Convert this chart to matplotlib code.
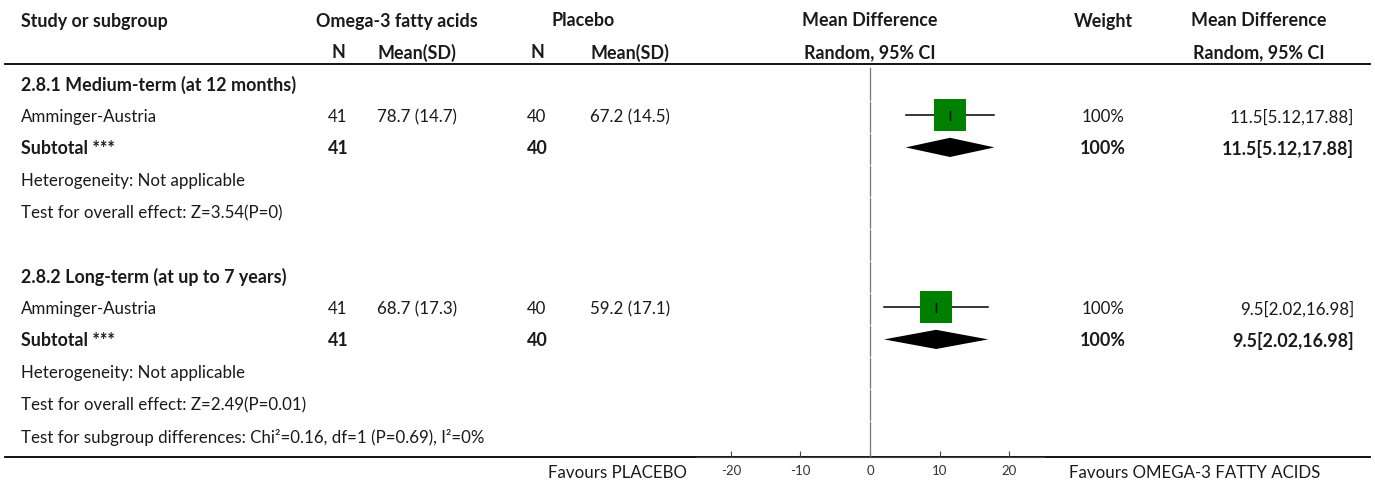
import matplotlib
matplotlib.use("Agg")
import matplotlib.pyplot as plt
import numpy as np

plt.rcParams['font.family'] = ['Lato', 'DejaVu Sans']
plt.rcParams['axes.unicode_minus'] = False

# data
groups = ["2.8.1 Medium-term (at 12 months)", "2.8.2 Long-term (at up to 7 years)"]
studies = ["Amminger-Austria", "Amminger-Austria"]
n_omega = [41, 41]
mean_omega = [78.7, 68.7]
sd_omega = [14.7, 17.3]
n_plac = [40, 40]
mean_plac = [67.2, 59.2]
sd_plac = [14.5, 17.1]
md = [11.5, 9.5]
ci_lo = [5.12, 2.02]
ci_hi = [17.88, 16.98]
weight = [100, 100]
heterogeneity = ["Heterogeneity: Not applicable", "Heterogeneity: Not applicable"]
overall = ["Test for overall effect: Z=3.54(P=0)", "Test for overall effect: Z=2.49(P=0.01)"]
subgroup_diff = "Test for subgroup differences: Chi\u00b2=0.16, df=1 (P=0.69), I\u00b2=0%"
xticks = [-20, -10, 0, 10, 20]

W, H = 1375, 484
fig = plt.figure(figsize=(W / 100, H / 100), dpi=100)

# rows: y pixel = 85 + 32*r
def r_of(ypx):
    return (ypx - 85) / 32.0

top_r, bot_r = r_of(0), r_of(H)
axis_px = 457

# text axes (x in pixels, y in rows)
ax = fig.add_axes([0, 0, 1, 1])
ax.set_xlim(0, W)
ax.set_ylim(bot_r, top_r)
ax.axis('off')

# forest axes
fx0, fx1 = 696, 1044
fa = fig.add_axes([fx0 / W, (H - axis_px) / H, (fx1 - fx0) / W, axis_px / H])
fa.set_xlim(-25, 25)
fa.set_ylim(r_of(axis_px), top_r)
fa.patch.set_alpha(0)
for s in ['top', 'right', 'left']:
    fa.spines[s].set_visible(False)
fa.spines['bottom'].set_color('#444444')
fa.set_yticks([])
fa.set_xticks(xticks)
fa.tick_params(axis='x', direction='in', length=4, width=0.8, color='#444444',
               labelsize=9.5, labelcolor='#333333', pad=6)

fs = 12.2
fsb = 12.9
col = '#1a1a1a'
C_STUDY = 21
C_NO, C_MO, C_NP, C_MP = 338, 417, 537, 630
C_W, C_MDH, C_MDR = 1103, 1259, 1354

def txt(x, r, s, ha='left', bold=False):
    ax.text(x, r, s, ha=ha, va='center', fontsize=fsb if bold else fs, color=col,
            fontweight='bold' if bold else 'normal')

# headers
txt(C_STUDY, -2, "Study or subgroup", bold=True)
txt(397, -2, "Omega-3 fatty acids", ha='center', bold=True)
txt(583, -2, "Placebo", ha='center', bold=True)
txt(870, -2, "Mean Difference", ha='center', bold=True)
txt(C_W, -2, "Weight", ha='center', bold=True)
txt(C_MDH, -2, "Mean Difference", ha='center', bold=True)
txt(C_NO, -1, "N", ha='center', bold=True)
txt(C_MO, -1, "Mean(SD)", ha='center', bold=True)
txt(C_NP, -1, "N", ha='center', bold=True)
txt(C_MP, -1, "Mean(SD)", ha='center', bold=True)
txt(870, -1, "Random, 95% CI", ha='center', bold=True)
txt(C_MDH, -1, "Random, 95% CI", ha='center', bold=True)
ax.plot([5, 1370], [r_of(64), r_of(64)], color='black', lw=1.3)

for g in range(len(groups)):
    r0 = g * 6
    txt(C_STUDY, r0, groups[g], bold=True)
    # study row
    rs = r0 + 1
    txt(C_STUDY, rs, studies[g])
    txt(C_NO, rs, str(n_omega[g]), ha='center')
    txt(C_MO, rs, f"{mean_omega[g]} ({sd_omega[g]})", ha='center')
    txt(C_NP, rs, str(n_plac[g]), ha='center')
    txt(C_MP, rs, f"{mean_plac[g]} ({sd_plac[g]})", ha='center')
    txt(C_W, rs, f"{weight[g]}%", ha='center')
    txt(C_MDR, rs, f"{md[g]}[{ci_lo[g]},{ci_hi[g]}]", ha='right')
    fa.plot([ci_lo[g], ci_hi[g]], [rs - 0.05, rs - 0.05], color='black', lw=1.1)
    fa.plot([md[g]], [rs - 0.05], marker='s', markersize=22.5, color='#008000',
            markeredgewidth=0, linestyle='none')
    fa.plot([md[g], md[g]], [rs - 0.19, rs + 0.09], color='black', lw=1.0)
    # subtotal row
    rt = r0 + 2
    txt(C_STUDY, rt, "Subtotal ***", bold=True)
    txt(C_NO, rt, str(n_omega[g]), ha='center', bold=True)
    txt(C_NP, rt, str(n_plac[g]), ha='center', bold=True)
    txt(C_W, rt, f"{weight[g]}%", ha='center', bold=True)
    txt(C_MDR, rt, f"{md[g]}[{ci_lo[g]},{ci_hi[g]}]", ha='right', bold=True)
    fa.fill([ci_lo[g], md[g], ci_hi[g], md[g]],
            [rt - 0.05, rt - 0.35, rt - 0.05, rt + 0.25], color='black', lw=0)
    txt(C_STUDY, r0 + 3, heterogeneity[g])
    txt(C_STUDY, r0 + 4, overall[g])

txt(C_STUDY, 11, subgroup_diff)

# zero line, segmented by rows
for r in range(0, 12):
    y0 = max(r - 0.5 + 0.03, r_of(66))
    y1 = r + 0.5 - 0.03 if r < 11 else r_of(axis_px)
    fa.plot([0, 0], [y0 - (0.06 if r == 0 else 0), y1], color='#777777', lw=0.9)

# bottom line
ax.plot([5, 1370], [r_of(axis_px), r_of(axis_px)], color='black', lw=1.3)
txt(687, r_of(473), "Favours PLACEBO", ha='right')
txt(1069, r_of(473), "Favours OMEGA-3 FATTY ACIDS")

fig.savefig("out.png", dpi=100)
